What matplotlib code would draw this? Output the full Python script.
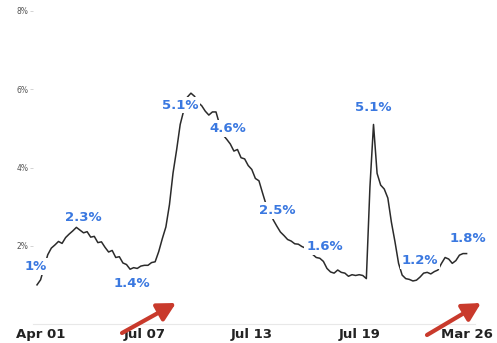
import matplotlib
matplotlib.use("Agg")
import matplotlib.pyplot as plt
from matplotlib.ticker import FuncFormatter

# Daily rate (%) over the period
rate = [
    1.0, 1.13, 1.45, 1.77, 1.94, 2.02, 2.11, 2.06, 2.21, 2.3,
    2.38, 2.47, 2.40, 2.33, 2.36, 2.22, 2.24, 2.08, 2.10, 1.96,
    1.84, 1.88, 1.70, 1.72, 1.56, 1.52, 1.4, 1.44, 1.42, 1.48,
    1.50, 1.50, 1.57, 1.59, 1.85, 2.18, 2.48, 3.05, 3.86, 4.45,
    5.1, 5.46, 5.80, 5.90, 5.82, 5.66, 5.58, 5.44, 5.34, 5.42,
    5.42, 5.10, 4.83, 4.72, 4.6, 4.42, 4.46, 4.25, 4.22, 4.05,
    3.95, 3.72, 3.66, 3.35, 3.05, 2.86, 2.66, 2.5, 2.35, 2.26,
    2.16, 2.12, 2.05, 2.04, 1.98, 1.94, 1.84, 1.78, 1.70, 1.68,
    1.6, 1.42, 1.33, 1.30, 1.38, 1.32, 1.30, 1.22, 1.26, 1.24,
    1.26, 1.24, 1.16, 3.5, 5.1, 3.85, 3.55, 3.45, 3.22, 2.6,
    2.1, 1.55, 1.25, 1.16, 1.14, 1.10, 1.12, 1.2, 1.30, 1.32,
    1.28, 1.34, 1.38, 1.55, 1.70, 1.66, 1.55, 1.62, 1.76, 1.80,
    1.8,
]

# Points that carry a value callout, and where the callout sits relative to them
callout_idx = [0, 9, 26, 40, 54, 67, 80, 94, 107, 120]
callout_dy = [13, 12, -10, 14, 11, 11, 11, 12, 12, 11]
callout_dx = [-1, 10, 1, 0, -2, 0, 1, 0, 0, 1]

tick_pos = [1, 30, 60, 90, 120]
tick_labels = ["Apr 01", "Jul 07", "Jul 13", "Jul 19", "Mar 26"]
y_ticks = [2, 4, 6, 8]

W, H = 497, 343
fig = plt.figure(figsize=(W / 100, H / 100), dpi=100)
fig.patch.set_facecolor("white")
ax = fig.add_axes([33 / W, 19 / H, 442 / W, 313 / H])

x = list(range(len(rate)))
ax.plot(x, rate, color="#2b2b2b", lw=1.1, zorder=2)

blue = "#3a78e0"
for i, dx, dy in zip(callout_idx, callout_dx, callout_dy):
    v = rate[i]
    txt = f"{v:g}%" if v != int(v) else f"{int(v)}%"
    ax.annotate(txt, (i, v), xytext=(dx, dy), textcoords="offset points",
                ha="center", va="center", fontsize=9.5, fontweight="bold",
                color=blue, zorder=4,
                bbox=dict(boxstyle="square,pad=0.15", fc="white", ec="none"))

ax.set_xlim(-1.117, 122.35)
ax.set_ylim(0, 8)
ax.set_xticks(tick_pos)
ax.set_xticklabels(tick_labels, fontsize=9.5, fontweight="bold", color="#222222")
ax.set_yticks(y_ticks)
ax.yaxis.set_major_formatter(FuncFormatter(lambda v, p: f"{int(v)}%"))
ax.tick_params(axis="x", length=0, pad=3)
ax.tick_params(axis="y", length=2.5, width=0.6, color="#cccccc", pad=1,
               labelsize=5.5, labelcolor="#555555")

for s in ["top", "right", "left"]:
    ax.spines[s].set_visible(False)
ax.spines["bottom"].set_color("#e8e8e8")
ax.spines["bottom"].set_linewidth(0.8)

# Red pointer arrows along the bottom edge
red = "#c93a2c"
for (x0, y0), (x1, y1) in [((122, 333), (176, 303)), ((427, 335), (481, 303))]:
    ax.annotate("", xy=(x1 / W, 1 - y1 / H), xycoords="figure fraction",
                xytext=(x0 / W, 1 - y0 / H), textcoords="figure fraction",
                arrowprops=dict(arrowstyle="-|>,head_length=0.6,head_width=0.32",
                                color=red, lw=3, mutation_scale=18,
                                shrinkA=0, shrinkB=0),
                annotation_clip=False, zorder=5)

fig.savefig("out.png", dpi=100, facecolor="white")
